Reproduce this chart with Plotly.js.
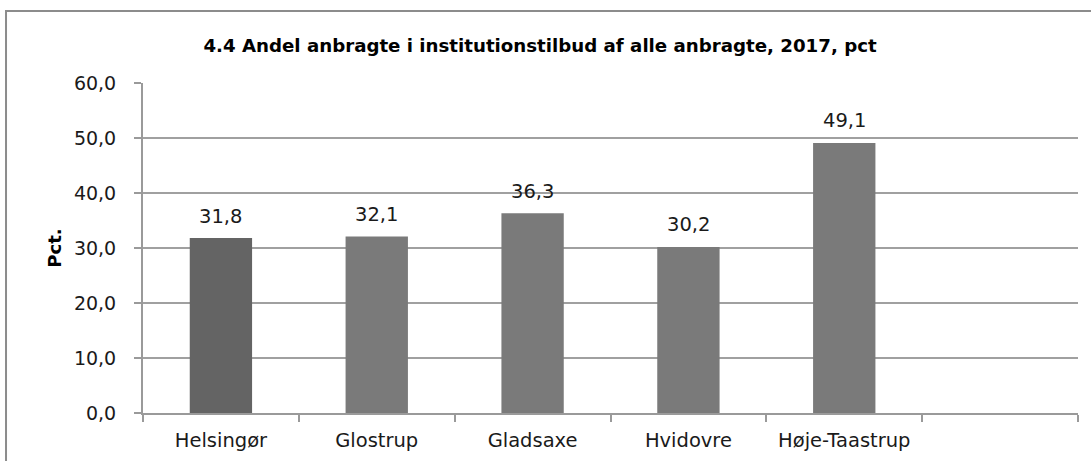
<!DOCTYPE html>
<html>
<head>
<meta charset="utf-8">
<script src="https://cdn.plot.ly/plotly-3.0.1.min.js"></script>
<style>
html,body{margin:0;padding:0;background:#fff;}
#chart{width:1091px;height:461px;}
</style>
</head>
<body>
<div id="chart"></div>
<script>
// Data
var categories = ['Helsingør', 'Glostrup', 'Gladsaxe', 'Hvidovre', 'Høje-Taastrup', ' '];
var values = [31.8, 32.1, 36.3, 30.2, 49.1, null];
var barColors = ['#646464', '#7a7a7a', '#7a7a7a', '#7a7a7a', '#7a7a7a', '#7a7a7a'];
var titleText = '4.4 Andel anbragte i institutionstilbud af alle anbragte, 2017, pct';
var yTitle = 'Pct.';

var FONT = 'DejaVu Sans, Open Sans, sans-serif';

var trace = {
  type: 'bar',
  x: categories,
  y: values,
  marker: {color: barColors, line: {width: 0}},
  width: 0.4,
  hoverinfo: 'x+y'
};

var annotations = [];
for (var i = 0; i < categories.length; i++) {
  if (values[i] === null) continue;
  annotations.push({
    x: categories[i], y: values[i], xref: 'x', yref: 'y',
    text: values[i].toFixed(1).replace('.', ','),
    showarrow: false, yanchor: 'middle', xanchor: 'center', yshift: 22,
    font: {family: FONT, size: 19.5, color: '#1a1a1a'}
  });
}

var layout = {
  width: 1091,
  height: 461,
  margin: {l: 143, r: 13, t: 83, b: 48},
  paper_bgcolor: '#ffffff',
  plot_bgcolor: '#ffffff',
  separators: ',.',
  showlegend: false,
  title: {
    text: '<b>' + titleText + '</b>',
    font: {family: FONT, size: 18.2, color: '#000'},
    x: 0.495, xanchor: 'center',
    y: 0.902, yanchor: 'middle', yref: 'container'
  },
  xaxis: {
    type: 'category',
    range: [-0.5, 5.5],
    tickson: 'boundaries',
    ticks: 'outside',
    ticklen: 7,
    tickwidth: 2,
    tickcolor: '#9a9a9a',
    showline: true,
    linecolor: '#9a9a9a',
    linewidth: 2,
    showgrid: false,
    zeroline: false,
    tickfont: {family: FONT, size: 19.5, color: '#1a1a1a'},
    ticklabelstandoff: 9
  },
  yaxis: {
    range: [0, 60],
    dtick: 10,
    tick0: 0,
    tickformat: '.1f',
    ticks: 'outside',
    ticklen: 7,
    tickwidth: 2,
    tickcolor: '#9a9a9a',
    showline: true,
    linecolor: '#9a9a9a',
    linewidth: 2,
    showgrid: true,
    gridcolor: '#a0a0a0',
    gridwidth: 2,
    zeroline: false,
    tickfont: {family: FONT, size: 19, color: '#1a1a1a'},
    ticklabelstandoff: 14,
    title: {text: '<b>' + yTitle + '</b>', font: {family: FONT, size: 18, color: '#000'}, standoff: 8}
  },
  annotations: annotations,
  shapes: [{
    type: 'rect', xref: 'paper', yref: 'paper',
    x0: -0.1465, x1: 1.05, y0: -0.3, y1: 1.2182,
    line: {color: '#8c8c8c', width: 2},
    fillcolor: 'rgba(0,0,0,0)',
    layer: 'below'
  }]
};

Plotly.newPlot('chart', [trace], layout, {displayModeBar: false, staticPlot: true});
</script>
</body>
</html>
